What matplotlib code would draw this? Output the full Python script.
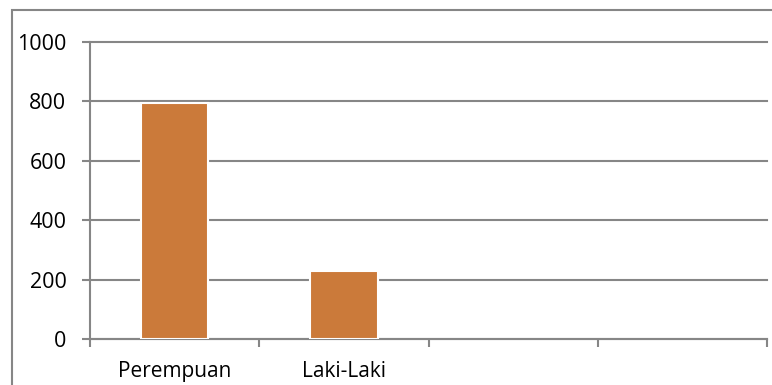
import numpy as np
import matplotlib.pyplot as plt
from matplotlib.patches import Rectangle

categories = ["Perempuan", "Laki-Laki"]
values = [795, 230]
yticks = [0, 200, 400, 600, 800, 1000]

plt.rcParams['font.family'] = ['Open Sans', 'DejaVu Sans']

fig = plt.figure(figsize=(7.72, 3.85), dpi=100)
ax = fig.add_axes([90 / 772, 46 / 385, 677 / 772, 297 / 385])

x = np.arange(len(categories))
ax.bar(x, values, width=0.4, color="#CB7A3A", edgecolor="white", linewidth=1.5, zorder=3)

ax.set_xlim(-0.5, 3.5)
ax.set_ylim(0, 1000)
ax.set_yticks(yticks)
ax.set_xticks(x)
ax.set_xticklabels(categories, fontsize=15)
ax.set_xticks(np.arange(-0.5, 4, 1), minor=True)
ax.tick_params(axis="x", which="major", length=0, pad=16)
ax.tick_params(axis="x", which="minor", length=6, width=1.5, color="#868686")
ax.tick_params(axis="y", length=6, width=1.5, color="#868686", labelsize=15.5, pad=11)

ax.grid(axis="y", color="#868686", linewidth=1.5, zorder=0)
for gl in ax.get_ygridlines():
    gl.set_clip_on(False)
ax.set_axisbelow(True)
for s in ["top", "right"]:
    ax.spines[s].set_visible(False)
for s in ["left", "bottom"]:
    ax.spines[s].set_color("#868686")
    ax.spines[s].set_linewidth(1.5)

# outer chart border
fig.patches.append(Rectangle((12 / 772, -0.1), 1.0, 1 - 10 / 385 + 0.1,
                             transform=fig.transFigure, fill=False,
                             edgecolor="#868686", linewidth=1.5))

fig.savefig("out.png", dpi=100)
